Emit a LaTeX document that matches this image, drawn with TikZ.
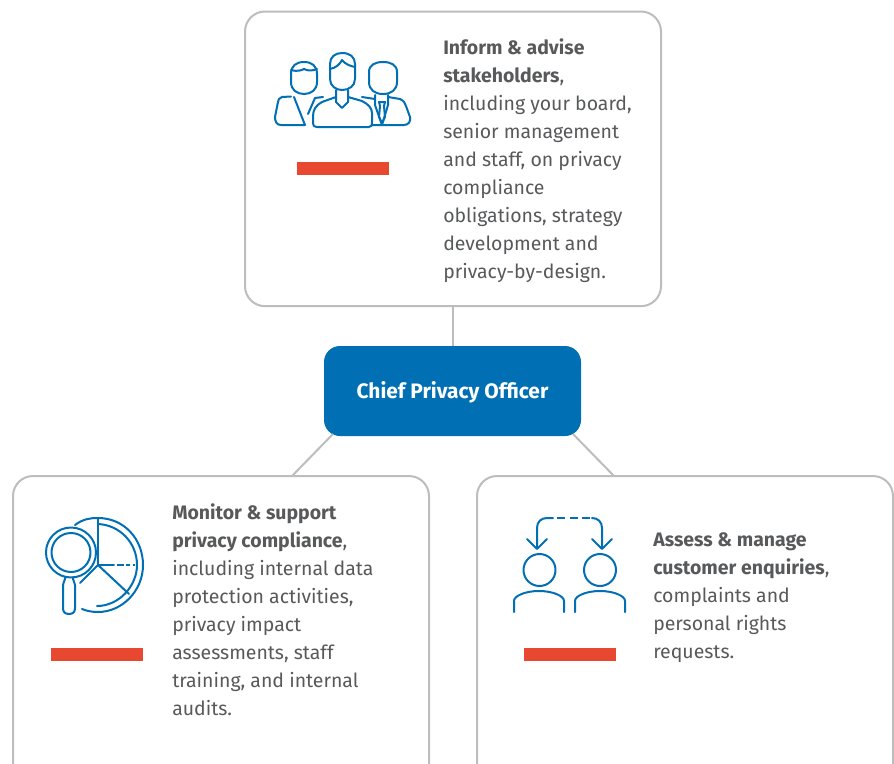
\documentclass[tikz,border=0pt]{standalone}
\usepackage{fontspec}
\setmainfont{Fira Sans}
\definecolor{cpoblue}{HTML}{006FB4}
\definecolor{boxgrey}{HTML}{BDBDBD}
\definecolor{txtgrey}{HTML}{58595B}
\definecolor{barred}{HTML}{E8482F}
\tikzset{
  panel/.style={draw=boxgrey,line width=1.5pt,rounded corners=15pt,fill=white,anchor=north west,inner sep=0pt},
  link/.style={draw=boxgrey,line width=1.5pt},
  icon/.style={draw=cpoblue,line width=1.5pt,line cap=round,line join=round},
  bartag/.style={fill=barred,inner sep=0pt,minimum width=69pt,minimum height=9.6pt,anchor=north west},
  body/.style={anchor=north west,inner sep=0pt,align=left,text=txtgrey,font=\fontsize{14.6pt}{21pt}\selectfont},
  cpobox/.style={fill=cpoblue,rounded corners=12pt,inner sep=0pt,text=white,font=\fontsize{15.7pt}{18pt}\selectfont\bfseries,minimum width=192.75pt,minimum height=67.5pt,text height=13pt,text depth=1.5pt}
}
\begin{document}
\begin{tikzpicture}[x=0.75pt,y=-0.75pt]
\useasboundingbox (0,0) rectangle (894,764);
\clip (0,0) rectangle (894,764);
\node[panel,minimum width=312pt,minimum height=221pt] (top) at (244,10.5) {};
\node[panel,minimum width=312pt,minimum height=240pt] (left) at (12,475) {};
\node[panel,minimum width=312pt,minimum height=240pt] (right) at (476,475) {};
\node[cpobox] (cpo) at (452.5,391) {Chief Privacy Officer};
\coordinate (leftfoot) at (292,476);
\coordinate (rightfoot) at (614,476);
\draw[link] (cpo.north) -- (cpo.north |- top.south);
\draw[link] (leftfoot) -- (333,434);
\draw[link] (rightfoot) -- (573,434);
\node[body] (toptext) at (443,38) {\textbf{Inform \& advise}\\\textbf{stakeholders},\\including your board,\\senior management\\and staff, on privacy\\compliance\\obligations, strategy\\development and\\privacy-by-design.};
\node[body] (lefttext) at (172,503) {\textbf{Monitor \& support}\\\textbf{privacy compliance},\\including internal data\\protection activities,\\privacy impact\\assessments, staff\\training, and internal\\audits.};
\node[body] (righttext) at (653,532) {\textbf{Assess \& manage}\\\textbf{customer enquiries},\\complaints and\\personal rights\\requests.};
\node[bartag] (bar1) at (297,162) {};
\node[bartag] (bar2) at (51,648) {};
\node[bartag] (bar3) at (524,648) {};
% people icon
\draw[icon] (291,74) .. controls (291,66) and (296,62) .. (304,62) .. controls (312,62) and (317,66) .. (317,74) -- (317,82) .. controls (317,90) and (311,94) .. (304,94) .. controls (297,94) and (291,90) .. (291,82) -- cycle;
\draw[icon] (291,70) .. controls (298,72) and (302,70) .. (304,69) .. controls (308,71) and (312,71) .. (317,69);
\draw[icon] (330,64) .. controls (330,57) and (335,53) .. (342,53) .. controls (350,53) and (355,57) .. (355,64) -- (355,79) .. controls (355,86) and (349,90) .. (342,90) .. controls (336,90) and (330,86) .. (330,79) -- cycle;
\draw[icon] (330,69) .. controls (336,68) and (340,64) .. (342,60) .. controls (345,64) and (350,66) .. (355,67);
\draw[icon] (369,72) .. controls (369,65) and (375,62) .. (383,62) .. controls (391,62) and (397,65) .. (397,72) -- (397,82) .. controls (397,90) and (391,94) .. (383,94) .. controls (375,94) and (369,90) .. (369,82) -- cycle;
\draw[icon] (291,96.5) -- (282,97) .. controls (279,98) and (278,100) .. (278,102) -- (275,117) .. controls (275,122) and (277,125) .. (281,125) -- (305,125) -- (294,97);
\draw[icon] (308,114) -- (315,98) -- (323,97);
\draw[icon] (336,90) -- (336,102) -- (342,108) -- (348,102) -- (348,90);
\draw[icon] (336,97) -- (322,102) .. controls (316,105) and (313,110) .. (313,116) -- (313,123) .. controls (313,126) and (314,127) .. (317,127) -- (369,127) .. controls (372,127) and (372,125) .. (372,122) -- (372,113) .. controls (372,108) and (368,104) .. (362,101) -- (348,97);
\draw[icon] (375,95) -- (375,105) -- (382,125) -- (388,105) -- (388,95);
\draw[icon] (379,102) -- (385,102) -- (384,106) -- (385,117) -- (382,123) -- (379,117) -- (380,106) -- cycle;
\draw[icon] (362,97) -- (375,99);
\draw[icon] (388,97) -- (400,99) .. controls (404,101) and (405,103) .. (406,106) -- (410,117) .. controls (411,122) and (408,125) .. (404,125) -- (372,125);
% magnifier icon
\draw[icon] (75,525) .. controls (83,519) and (90,518) .. (98,518) .. controls (124,518) and (143,539) .. (143,565) .. controls (143,591) and (122,612) .. (98,612) .. controls (92,612) and (87,611) .. (82,609);
\draw[icon] (98,518) -- (98,565) -- (114,565);
\draw[icon,line cap=butt,dash pattern=on 5pt off 2pt on 3pt off 2pt on 3pt off 2pt] (117,565) -- (135,565);
\draw[icon] (98,524) .. controls (120,525) and (137,543) .. (137,565) .. controls (137,586) and (119,606) .. (97,606);
\draw[icon] (98,565) -- (129,594);
\draw[icon] (98,565) -- (80,583);
\draw[icon] (71,552.5) circle (25);
\draw[icon] (71,552.5) circle (19.5);
\draw[icon] (65,577) -- (65,579) .. controls (65,581) and (63,582) .. (63,585) -- (63,608) .. controls (63,612) and (65,614) .. (69,614) .. controls (73,614) and (75,612) .. (75,608) -- (75,585) .. controls (75,582) and (73,581) .. (73,579) -- (73,577);
% exchange icon
\draw[icon] (537,548) -- (537,528) .. controls (537,522) and (541,518) .. (547,518) -- (553,518);
\draw[icon] (527,539) -- (537,549) -- (547,539);
\draw[icon,line cap=butt,dash pattern=on 6pt off 3.5pt] (557,518) -- (592,518);
\draw[icon] (592,518) .. controls (598,518) and (602,522) .. (602,528) -- (602,548);
\draw[icon] (592,539) -- (602,549) -- (612,539);
\draw[icon] (539.5,570) circle (16);
\draw[icon] (600,570) circle (16);
\draw[icon] (514,612) -- (514,601) .. controls (514,596) and (525,591) .. (539,591) .. controls (553,591) and (564,596) .. (564,601) -- (564,612);
\draw[icon] (575,612) -- (575,601) .. controls (575,596) and (586,591) .. (600,591) .. controls (614,591) and (625,596) .. (625,601) -- (625,612);
\end{tikzpicture}
\end{document}
